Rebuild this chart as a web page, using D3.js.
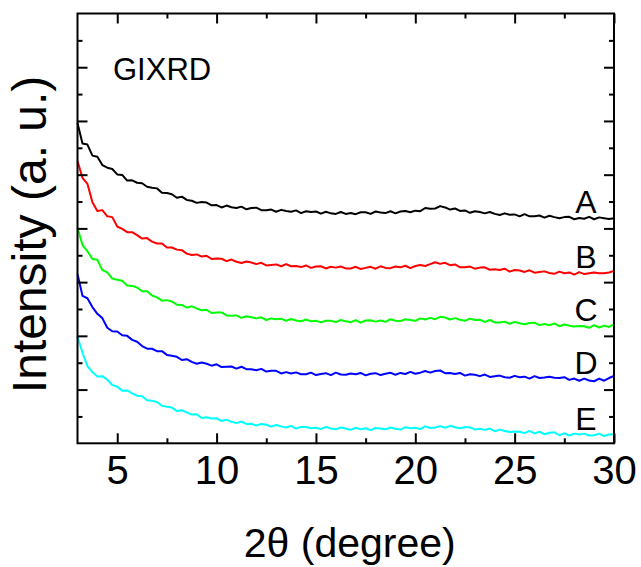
<!DOCTYPE html>
<html><head><meta charset="utf-8">
<script src="https://cdn.jsdelivr.net/npm/d3@7/dist/d3.min.js"></script>
<style>
body{margin:0;background:#fff}
svg{display:block}
text{font-family:"Liberation Sans",Arial,Helvetica,sans-serif;fill:#000}
</style>
</head><body>
<svg id="chart" width="641" height="567"></svg>
<script>
// 2θ sampling grid (degrees), 3 to 30 in 0.25° steps
const twoTheta = d3.range(0, 109).map(i => 3 + i * 0.25);

const seriesNames = ["A", "B", "C", "D", "E"];
const seriesColors = ["#000000", "#ff0000", "#00ff00", "#0000ff", "#00ffff"];

const intensityA = [11.92,11.16,11.12,10.71,10.67,10.36,10.26,10.21,10.01,9.99,
9.78,9.79,9.70,9.68,9.55,9.51,9.49,9.33,9.32,9.27,
9.14,9.18,9.06,9.03,8.95,8.98,8.96,8.86,8.87,8.78,
8.85,8.79,8.76,8.81,8.71,8.76,8.77,8.68,8.68,8.70,
8.62,8.69,8.65,8.62,8.67,8.57,8.64,8.61,8.63,8.55,
8.62,8.56,8.54,8.61,8.54,8.57,8.53,8.60,8.60,8.54,
8.63,8.59,8.57,8.64,8.56,8.63,8.65,8.60,8.66,8.64,
8.76,8.73,8.74,8.83,8.78,8.70,8.74,8.65,8.67,8.58,
8.64,8.61,8.56,8.61,8.54,8.50,8.56,8.51,8.52,8.45,
8.53,8.45,8.45,8.48,8.40,8.47,8.42,8.38,8.42,8.43,
8.34,8.39,8.36,8.43,8.34,8.41,8.38,8.35,8.38];

const intensityB = [10.51,9.88,9.66,8.97,8.65,8.68,8.45,8.42,8.07,7.98,
7.86,7.86,7.75,7.62,7.64,7.51,7.44,7.44,7.29,7.29,
7.21,7.19,7.06,7.01,7.03,6.95,6.98,6.86,6.88,6.87,
6.78,6.84,6.76,6.71,6.77,6.73,6.67,6.72,6.62,6.64,
6.66,6.59,6.67,6.59,6.60,6.56,6.62,6.53,6.58,6.59,
6.51,6.57,6.54,6.58,6.51,6.51,6.57,6.49,6.53,6.57,
6.50,6.59,6.53,6.52,6.58,6.55,6.61,6.52,6.60,6.64,
6.60,6.67,6.74,6.68,6.72,6.63,6.66,6.55,6.55,6.58,
6.50,6.54,6.55,6.46,6.48,6.45,6.50,6.39,6.45,6.43,
6.38,6.44,6.35,6.38,6.40,6.34,6.31,6.39,6.33,6.36,
6.28,6.37,6.30,6.33,6.36,6.33,6.33,6.36,6.42];

const intensityC = [8.02,7.38,7.15,6.86,6.83,6.45,6.36,6.13,6.09,6.05,
5.87,5.86,5.80,5.66,5.66,5.50,5.43,5.31,5.33,5.28,
5.16,5.15,5.05,5.10,5.02,4.95,4.97,4.85,4.87,4.87,
4.76,4.75,4.76,4.67,4.73,4.69,4.65,4.69,4.59,4.65,
4.62,4.64,4.56,4.63,4.57,4.54,4.61,4.54,4.56,4.50,
4.56,4.56,4.51,4.59,4.54,4.51,4.58,4.49,4.57,4.58,
4.53,4.57,4.52,4.62,4.56,4.55,4.62,4.59,4.56,4.65,
4.61,4.67,4.62,4.71,4.68,4.61,4.66,4.60,4.56,4.64,
4.59,4.60,4.52,4.59,4.50,4.50,4.53,4.45,4.52,4.47,
4.43,4.48,4.49,4.40,4.44,4.40,4.46,4.36,4.42,4.38,
4.35,4.37,4.36,4.30,4.40,4.31,4.38,4.33,4.44];

const intensityD = [6.30,5.49,5.40,5.07,4.82,4.66,4.30,4.17,4.16,4.02,
4.00,3.85,3.78,3.62,3.52,3.52,3.43,3.43,3.29,3.26,
3.22,3.10,3.13,3.03,2.96,3.01,2.96,2.89,2.94,2.84,
2.85,2.86,2.78,2.85,2.76,2.76,2.72,2.77,2.67,2.70,
2.70,2.60,2.65,2.60,2.64,2.57,2.57,2.63,2.54,2.58,
2.61,2.54,2.63,2.56,2.55,2.60,2.57,2.62,2.53,2.59,
2.61,2.54,2.59,2.63,2.55,2.62,2.58,2.66,2.59,2.63,
2.69,2.63,2.69,2.71,2.61,2.62,2.58,2.62,2.52,2.57,
2.55,2.50,2.56,2.47,2.50,2.52,2.46,2.44,2.51,2.46,
2.48,2.41,2.50,2.43,2.45,2.48,2.44,2.43,2.46,2.36,
2.41,2.33,2.41,2.34,2.31,2.41,2.33,2.43,2.51];

const intensityE = [3.97,3.37,2.87,2.65,2.49,2.50,2.37,2.17,2.11,1.96,
1.97,1.86,1.77,1.75,1.60,1.58,1.54,1.40,1.36,1.33,
1.20,1.23,1.15,1.07,1.08,0.94,0.97,0.92,0.93,0.83,
0.88,0.80,0.75,0.81,0.72,0.73,0.66,0.72,0.69,0.62,
0.68,0.63,0.59,0.65,0.55,0.61,0.61,0.56,0.58,0.53,
0.61,0.55,0.52,0.59,0.55,0.50,0.58,0.52,0.56,0.49,
0.57,0.55,0.52,0.59,0.54,0.51,0.60,0.56,0.58,0.53,
0.63,0.57,0.59,0.64,0.58,0.65,0.60,0.56,0.60,0.60,
0.51,0.54,0.50,0.55,0.45,0.51,0.46,0.42,0.44,0.43,
0.38,0.46,0.37,0.43,0.34,0.39,0.41,0.30,0.37,0.29,
0.36,0.33,0.36,0.29,0.30,0.36,0.27,0.33,0.34];

const xMajorTicks = [5, 10, 15, 20, 25, 30];
const xMinorTicks = [7.5, 12.5, 17.5, 22.5, 27.5];
const yMajorTicks = [2, 4, 6, 8, 10, 12, 14];
const yMinorTicks = [1, 3, 5, 7, 9, 11, 13, 15];

const xTitle = "2θ (degree)";
const yTitle = "Intensity (a. u.)";
const annotation = "GIXRD";

const allSeries = [intensityA, intensityB, intensityC, intensityD, intensityE];

// ---- layout ----
const L = 77.5, R = 614, T = 13.5, B = 443.3;
const svg = d3.select("#chart");
const x = d3.scaleLinear().domain([3, 30]).range([L, R]);
const y = d3.scaleLinear().domain([0, 16]).range([B, T]);

const lineGen = d3.line().x((d, i) => x(twoTheta[i])).y(d => y(d));

const plot = svg.append("g");
allSeries.forEach((s, k) => {
  plot.append("path").datum(s)
    .attr("d", lineGen)
    .attr("fill", "none")
    .attr("stroke", seriesColors[k])
    .attr("stroke-width", 2)
    .attr("stroke-linejoin", "round");
});

// series labels
allSeries.forEach((s, k) => {
  const tail = d3.mean(s.slice(-8));
  svg.append("text")
    .attr("x", 586).attr("y", y(tail) - 5)
    .attr("text-anchor", "middle")
    .attr("font-size", 32)
    .text(seriesNames[k]);
});

svg.append("text").attr("x", 113).attr("y", 80).attr("font-size", 31).text(annotation);

// axes
function styleAxis(g) {
  g.selectAll(".domain").remove();
  g.selectAll(".tick line").attr("stroke", "#000").attr("stroke-width", 2);
}
const fmt = d3.format("d");
svg.append("g").attr("transform", `translate(0,${B})`)
  .call(d3.axisBottom(x).tickValues(xMajorTicks).tickSizeInner(-10).tickSizeOuter(0).tickPadding(12).tickFormat(fmt))
  .call(styleAxis)
  .call(g => g.selectAll("text").attr("font-size", 40).attr("font-family", '"Liberation Sans",Arial,sans-serif').attr("fill", "#000"));
svg.append("g").attr("transform", `translate(0,${B})`)
  .call(d3.axisBottom(x).tickValues(xMinorTicks).tickSizeInner(-5).tickSizeOuter(0).tickFormat(""))
  .call(styleAxis);
svg.append("g").attr("transform", `translate(0,${T})`)
  .call(d3.axisTop(x).tickValues(xMajorTicks).tickSizeInner(-10).tickSizeOuter(0).tickFormat(""))
  .call(styleAxis);
svg.append("g").attr("transform", `translate(0,${T})`)
  .call(d3.axisTop(x).tickValues(xMinorTicks).tickSizeInner(-5).tickSizeOuter(0).tickFormat(""))
  .call(styleAxis);
svg.append("g").attr("transform", `translate(${L},0)`)
  .call(d3.axisLeft(y).tickValues(yMajorTicks).tickSizeInner(-10).tickSizeOuter(0).tickFormat(""))
  .call(styleAxis);
svg.append("g").attr("transform", `translate(${L},0)`)
  .call(d3.axisLeft(y).tickValues(yMinorTicks).tickSizeInner(-5).tickSizeOuter(0).tickFormat(""))
  .call(styleAxis);
svg.append("g").attr("transform", `translate(${R},0)`)
  .call(d3.axisRight(y).tickValues(yMajorTicks).tickSizeInner(-10).tickSizeOuter(0).tickFormat(""))
  .call(styleAxis);
svg.append("g").attr("transform", `translate(${R},0)`)
  .call(d3.axisRight(y).tickValues(yMinorTicks).tickSizeInner(-5).tickSizeOuter(0).tickFormat(""))
  .call(styleAxis);

// frame
svg.append("rect").attr("x", L).attr("y", T).attr("width", R - L).attr("height", B - T)
  .attr("fill", "none").attr("stroke", "#000").attr("stroke-width", 2);

// titles
svg.append("text").attr("x", (L + R) / 2 + 4).attr("y", 557)
  .attr("text-anchor", "middle").attr("font-size", 41).text(xTitle);
svg.append("text").attr("transform", `translate(46,${(T + B) / 2 + 6}) rotate(-90)`)
  .attr("text-anchor", "middle").attr("font-size", 48).text(yTitle);
</script>
</body></html>
